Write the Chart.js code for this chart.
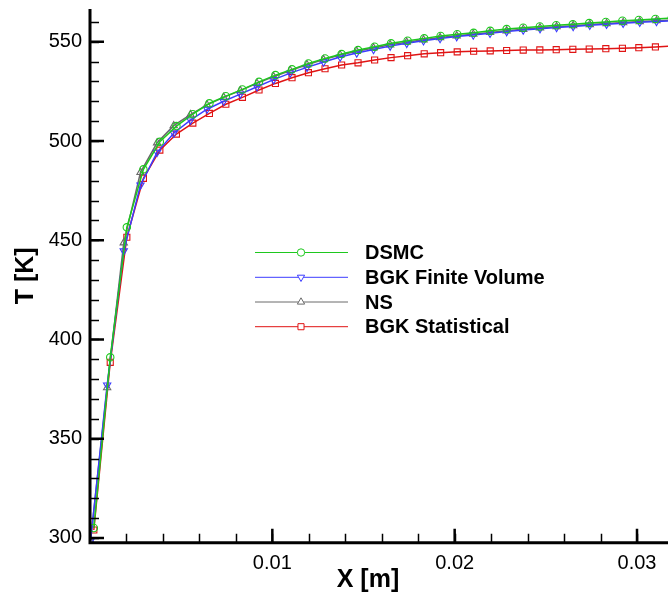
<!DOCTYPE html>
<html>
<head>
<meta charset="utf-8">
<script src="https://cdn.jsdelivr.net/npm/chart.js@4.4.0/dist/chart.umd.min.js"></script>
<style>
  html, body { margin: 0; padding: 0; background: #fff; overflow: hidden; }
  #wrap { width: 668px; height: 596px; }
</style>
</head>
<body>
<div id="wrap"><canvas id="tempChart" width="668" height="596"></canvas></div>
<script>
// sample positions [m]
const xSample = [0.00021, 0.00111, 0.00202, 0.00293, 0.00383, 0.00474, 0.00564, 0.00655, 0.00745,
  0.00836, 0.00927, 0.01017, 0.01108, 0.01198, 0.01289, 0.01380, 0.01470, 0.01561, 0.01651,
  0.01742, 0.01833, 0.01923, 0.02014, 0.02104, 0.02195, 0.02285, 0.02376, 0.02467, 0.02557,
  0.02648, 0.02738, 0.02829, 0.02920, 0.03010, 0.03101, 0.03191];
const xCell = [0.00003, 0.00094, 0.00185, 0.00277, 0.00368, 0.00459, 0.00551, 0.00642, 0.00733,
  0.00824, 0.00916, 0.01007, 0.01098, 0.01190, 0.01281, 0.01372, 0.01463, 0.01555, 0.01646,
  0.01737, 0.01829, 0.01920, 0.02011, 0.02102, 0.02194, 0.02285, 0.02376, 0.02468, 0.02559,
  0.02650, 0.02741, 0.02833, 0.02924, 0.03015, 0.03107, 0.03198];

// temperatures [K]
const dsmcT = [305, 391, 456.5, 485.7, 499.6, 507.5, 513.5, 519.0, 522.6, 526.0, 529.8, 533.2,
  536.1, 539.1, 541.6, 543.8, 545.8, 547.5, 549.2, 550.5, 551.7, 552.9, 553.8, 554.5, 555.5,
  556.4, 557.1, 557.7, 558.3, 558.8, 559.4, 560.0, 560.6, 561.0, 561.5, 562.0];
const bgkFvT = [298.5, 377, 444.6, 477.8, 494.3, 503.9, 510.5, 516.0, 520.0, 523.6, 527.3, 530.9,
  534.2, 537.1, 539.8, 542.3, 544.3, 546.1, 547.8, 549.2, 550.5, 551.6, 552.6, 553.4, 554.3,
  555.1, 555.9, 556.6, 557.2, 557.7, 558.3, 558.8, 559.3, 559.8, 560.2, 560.6];
const nsT = [298.5, 375.7, 448.7, 484.2, 499.1, 507.7, 513.3, 518.2, 522.0, 525.4, 529.0, 532.4,
  535.5, 538.4, 541.0, 543.3, 545.2, 546.9, 548.5, 549.8, 551.0, 552.1, 553.0, 553.8, 554.7,
  555.5, 556.3, 557.0, 557.6, 558.1, 558.7, 559.2, 559.7, 560.2, 560.6, 561.0];
const bgkStatT = [304, 388.5, 451.5, 481.2, 495.4, 503.5, 509.0, 513.9, 518.5, 522.0, 525.7, 529.0,
  531.9, 534.4, 536.4, 538.3, 539.4, 540.8, 542.0, 543.0, 543.9, 544.5, 544.9, 545.2, 545.4,
  545.6, 545.8, 545.9, 546.0, 546.2, 546.3, 546.5, 546.7, 547.0, 547.4, 547.9];

const seriesNames = ["DSMC", "BGK Finite Volume", "NS", "BGK Statistical"];
const yTicks = [300, 350, 400, 450, 500, 550];
const xTicks = [0.01, 0.02, 0.03];

const FONT = "'Liberation Sans', Arial, Helvetica, sans-serif";

const toPoints = (xs, ys) => ys.map((v, i) => ({ x: xs[i], y: v }));

const makeSet = (label, xs, ys, color, style, rot, radius) => ({
  label,
  data: toPoints(xs, ys),
  borderColor: color,
  backgroundColor: "rgba(255,255,255,0)",
  borderWidth: 1.5,
  pointStyle: style,
  pointRotation: rot,
  pointRadius: radius,
  pointBorderWidth: 1.1,
  pointBorderColor: color,
  pointBackgroundColor: "rgba(255,255,255,0)",
  tension: 0,
  fill: false,
});

const noPadding = (scale) => {
  scale.paddingTop = 0;
  scale.paddingBottom = 0;
  scale.paddingLeft = 0;
  scale.paddingRight = 0;
};

// axes, inward ticks, legend and axis titles
const frame = {
  id: "frame",
  afterDatasetsDraw(chart) {
    const { ctx, chartArea: a, scales } = chart;
    const x = scales.x, y = scales.y;
    ctx.save();
    ctx.strokeStyle = "#000";

    // minor ticks
    ctx.lineWidth = 1.5;
    ctx.beginPath();
    for (let v = 300; v <= 560; v += 10) {
      const py = Math.round(y.getPixelForValue(v)) + 0.5;
      ctx.moveTo(a.left, py);
      ctx.lineTo(a.left + 9, py);
    }
    for (let v = 0.002; v < x.max; v += 0.002) {
      const px = Math.round(x.getPixelForValue(v)) + 0.5;
      ctx.moveTo(px, a.bottom);
      ctx.lineTo(px, a.bottom - 9);
    }
    ctx.stroke();

    // major ticks
    ctx.lineWidth = 2.5;
    ctx.beginPath();
    yTicks.forEach((v) => {
      const py = y.getPixelForValue(v);
      ctx.moveTo(a.left, py);
      ctx.lineTo(a.left + 14, py);
    });
    xTicks.forEach((v) => {
      const px = x.getPixelForValue(v);
      ctx.moveTo(px, a.bottom);
      ctx.lineTo(px, a.bottom - 14);
    });
    ctx.stroke();

    // axis lines
    ctx.lineWidth = 3;
    ctx.beginPath();
    ctx.moveTo(a.left, a.top);
    ctx.lineTo(a.left, a.bottom + 1.5);
    ctx.moveTo(a.left - 1.5, a.bottom);
    ctx.lineTo(a.right, a.bottom);
    ctx.stroke();

    // legend
    const lx0 = 255, lx1 = 348, mx = 301, tx = 365;
    const rows = [252.5, 277.3, 302, 326.7];
    chart.data.datasets.forEach((ds, i) => {
      const ly = rows[i];
      ctx.strokeStyle = ds.borderColor;
      ctx.lineWidth = 1;
      ctx.beginPath();
      ctx.moveTo(lx0, ly);
      ctx.lineTo(lx1, ly);
      ctx.stroke();
      ctx.fillStyle = "#fff";
      Chart.helpers.drawPoint(ctx, {
        pointStyle: ds.pointStyle,
        rotation: ds.pointRotation,
        radius: ds.pointRadius,
        borderWidth: 1,
      }, mx, ly);
      ctx.fillStyle = "#000";
      ctx.font = "bold 20px " + FONT;
      ctx.textAlign = "left";
      ctx.textBaseline = "middle";
      ctx.fillText(ds.label, tx, ly + 1);
    });

    // axis titles
    ctx.fillStyle = "#000";
    ctx.font = "bold 25px " + FONT;
    ctx.textAlign = "center";
    ctx.textBaseline = "middle";
    ctx.fillText("X [m]", 368, 580);
    ctx.translate(26, a.top + (a.bottom - a.top) / 2);
    ctx.rotate(-Math.PI / 2);
    ctx.fillText("T [K]", 0, 0);
    ctx.restore();
  },
};

const ctx = document.getElementById("tempChart").getContext("2d");
const chart = new Chart(ctx, {
  type: "line",
  data: {
    datasets: [
      makeSet(seriesNames[0], xSample, dsmcT, "#1ec81e", "circle", 0, 3.7),
      makeSet(seriesNames[1], xCell, bgkFvT, "#3c3cff", "triangle", 180, 4.2),
      makeSet(seriesNames[2], xCell, nsT, "#6a6a6a", "triangle", 0, 4.2),
      makeSet(seriesNames[3], xSample, bgkStatT, "#e01414", "rect", 0, 4.3),
    ],
  },
  options: {
    responsive: false,
    animation: false,
    devicePixelRatio: 1,
    layout: { autoPadding: false, padding: { top: 9, right: 0, left: 0, bottom: 0 } },
    plugins: {
      legend: { display: false },
      tooltip: { enabled: false },
    },
    scales: {
      x: {
        type: "linear",
        min: 0,
        max: 0.0317,
        grid: { display: false, drawTicks: false },
        border: { display: false },
        afterBuildTicks: (scale) => {
          scale.ticks = xTicks.map((v) => ({ value: v }));
        },
        afterFit: (scale) => {
          scale.height = 53.3;
          noPadding(scale);
        },
        ticks: {
          color: "#000",
          padding: 9,
          maxRotation: 0,
          font: { family: FONT, size: 20 },
          callback: (v) => v.toFixed(2),
        },
      },
      y: {
        type: "linear",
        min: 297.6,
        max: 566.5,
        grid: { display: false, drawTicks: false },
        border: { display: false },
        afterBuildTicks: (scale) => {
          scale.ticks = yTicks.map((v) => ({ value: v }));
        },
        afterFit: (scale) => {
          scale.width = 90;
          noPadding(scale);
        },
        ticks: {
          color: "#000",
          padding: 8,
          font: { family: FONT, size: 20 },
        },
      },
    },
  },
  plugins: [frame],
});
</script>
</body>
</html>
